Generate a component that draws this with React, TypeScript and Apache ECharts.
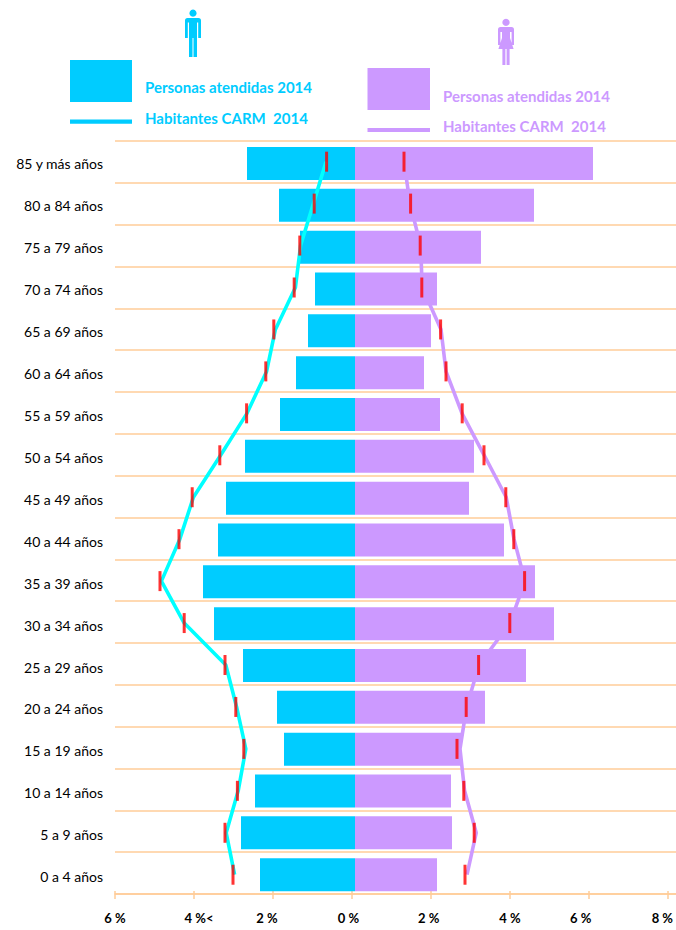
import React, { useEffect, useRef } from "react";
import * as echarts from "echarts";

const ageGroups = ["85 y más años", "80 a 84 años", "75 a 79 años", "70 a 74 años", "65 a 69 años", "60 a 64 años", "55 a 59 años", "50 a 54 años", "45 a 49 años", "40 a 44 años", "35 a 39 años", "30 a 34 años", "25 a 29 años", "20 a 24 años", "15 a 19 años", "10 a 14 años", "5 a 9 años", "0 a 4 años"];
const maleAttended = [2.7, 1.9, 1.375, 1.0, 1.175, 1.475, 1.875, 2.75, 3.225, 3.425, 3.8, 3.525, 2.8, 1.95, 1.775, 2.5, 2.85, 2.375];
const femaleAttended = [5.95, 4.475, 3.15, 2.05, 1.9, 1.725, 2.125, 2.975, 2.85, 3.725, 4.5, 4.975, 4.275, 3.25, 2.65, 2.4, 2.425, 2.05];
const maleMarks = [0.71, 1.02, 1.38, 1.52, 2.03, 2.23, 2.71, 3.38, 4.07, 4.4, 4.875, 4.27, 3.25, 2.98, 2.78, 2.94, 3.25, 3.05];
const femaleMarks = [1.225, 1.39, 1.63, 1.67, 2.14, 2.275, 2.68, 3.225, 3.77, 3.97, 4.24, 3.87, 3.09, 2.78, 2.55, 2.72, 2.98, 2.75];
const maleLine = [0.725, 1.04, 1.36, 1.49, 1.99, 2.21, 2.7, 3.36, 4.04, 4.38, 4.84, 4.27, 3.23, 2.96, 2.73, 2.92, 3.22, 3.01];
const femaleLine = [1.225, 1.375, 1.64, 1.68, 2.15, 2.275, 2.675, 3.23, 3.78, 3.975, 4.25, 3.875, 3.1, 2.79, 2.625, 2.74, 3.03, 2.8];
const tickTexts: Record<string, string> = { "-6": "6 %", "-4": "4 %<", "-2": "2 %", "0": "0 %", "2": "2 %", "4": "4 %", "6": "6 %", "8": "8 %" };
const tickStyle: Record<string, string> = { "-6": "a", "-4": "b", "-2": "c", "0": "d", "2": "e", "4": "a", "6": "f", "8": "g" };

const MAN = "M8 0.6a3.6 3.6 0 1 0 0.01 0Z M2.5 9H13.5Q16 9 16 11.5V29H13.2V13.5H12V48H8.5V29H7.5V48H4V13.5H2.8V29H0V11.5Q0 9 2.5 9Z";
const WOMAN = "M8 0.8a3.6 3.6 0 1 0 0.01 0Z M2.5 9H13.5Q16 9 16 11.5V27H13.6V14H12V20L15.6 31H11.6V47H8.6V31H7.4V47H4.4V31H0.4L4 20V14H2.4V27H0V11.5Q0 9 2.5 9Z";

const BLUE = "#00CCFF";
const CYAN = "#00FFFF";
const PURPLE = "#CC99FF";
const PEACH = "#FFCC99";
const FONT = "Lato";

function rowData(values: number[], sign: number) {
  return values.map((v, i) => [sign * v, i]);
}

export default function App() {
  const ref = useRef<HTMLDivElement>(null);
  useEffect(() => {
    echarts.graphic.registerShape("manIcon", echarts.graphic.extendPath(MAN, {}));
    echarts.graphic.registerShape("womanIcon", echarts.graphic.extendPath(WOMAN, {}));
    const chart = echarts.init(ref.current!, null, { renderer: "svg" });
    const pad = (dx: number) => ({
      fontFamily: FONT,
      fontSize: 13,
      fontWeight: "bold",
      color: "#000",
      padding: dx > 0 ? [0, 0, 0, 2 * dx] : [0, -2 * dx, 0, 0],
    });
    const hiddenX = (gridIndex: number) => ({ type: "value", gridIndex, min: -6, max: 8, interval: 2, show: false });
    const legendText = (text: string, x: number, y: number, fill: string) => ({
      type: "text",
      x,
      y,
      style: { text, fill, font: `bold 15px ${FONT}`, textVerticalAlign: "middle" },
    });
    chart.setOption({
      animation: false,
      backgroundColor: "#fff",
      grid: [
        { left: 115, width: 561, top: 141, height: 753 },
        { left: 115, width: 560, top: 142.6, height: 753 },
        { left: 115, width: 560, top: 140.7, height: 755 },
        { left: 115, width: 558.7, top: 141, height: 753 },
        { left: 115, width: 560, top: 142.7, height: 755 },
      ],
      xAxis: [
        {
          type: "value",
          gridIndex: 0,
          min: -6,
          max: 8,
          interval: 2,
          splitLine: { show: false },
          axisLine: { show: true, onZero: false, lineStyle: { color: PEACH, width: 1.5 } },
          axisTick: { show: false },
          axisLabel: { show: false },
        },
        {
          type: "value",
          gridIndex: 3,
          min: -6,
          max: 8,
          interval: 2,
          splitLine: { show: false },
          axisLine: { show: false, onZero: false },
          axisTick: { show: true, length: 5, lineStyle: { color: PEACH, width: 1.5 } },
          axisLabel: {
            margin: 17,
            formatter: (v: number) => `{${tickStyle[String(v)]}|${tickTexts[String(v)]}}`,
            rich: { a: pad(0), b: pad(5), c: pad(-6), d: pad(-3.5), e: pad(-2.3), f: pad(-8.3), g: pad(-5.6) },
          },
        },
        {
          type: "value",
          gridIndex: 3,
          min: -6,
          max: 8,
          interval: 2,
          position: "bottom",
          splitLine: { show: false },
          axisLine: { show: false, onZero: false },
          axisLabel: { show: false },
          axisTick: { show: true, inside: true, length: 3, lineStyle: { color: PEACH, width: 1.5 } },
        },
        hiddenX(1),
        hiddenX(2),
        hiddenX(4),
      ],
      yAxis: [
        {
          type: "category",
          gridIndex: 0,
          inverse: true,
          data: ageGroups,
          axisLine: { show: false },
          axisTick: { show: false },
          axisLabel: { show: false },
          splitLine: { show: true, interval: 0, lineStyle: { color: PEACH, width: 1.5 } },
        },
        { type: "category", gridIndex: 1, inverse: true, data: ageGroups, show: false },
        { type: "category", gridIndex: 2, inverse: true, data: ageGroups, show: false },
        { type: "category", gridIndex: 3, inverse: true, data: ageGroups, show: false },
        {
          type: "category",
          gridIndex: 4,
          inverse: true,
          data: ageGroups,
          axisLine: { show: false },
          axisTick: { show: false },
          splitLine: { show: false },
          axisLabel: {
            interval: 0,
            margin: 12,
            color: "#000",
            fontFamily: FONT,
            fontSize: 14,
          },
        },
      ],
      series: [
        { type: "bar", name: "Personas atendidas 2014 H", xAxisIndex: 3, yAxisIndex: 1, data: rowData(maleAttended, -1), barWidth: 33, barGap: "-100%", itemStyle: { color: BLUE }, z: 2, silent: true },
        { type: "bar", name: "Personas atendidas 2014 M", xAxisIndex: 3, yAxisIndex: 1, data: rowData(femaleAttended, 1), barWidth: 33, barGap: "-100%", itemStyle: { color: PURPLE }, z: 2, silent: true },
        { type: "line", name: "Habitantes CARM 2014 H", xAxisIndex: 4, yAxisIndex: 2, data: rowData(maleLine, -1), showSymbol: false, lineStyle: { color: CYAN, width: 3.6 }, z: 3, silent: true },
        { type: "line", name: "Habitantes CARM 2014 M", xAxisIndex: 4, yAxisIndex: 2, data: rowData(femaleLine, 1), showSymbol: false, lineStyle: { color: PURPLE, width: 3.6 }, z: 1, silent: true },
        { type: "scatter", name: "Marca H", xAxisIndex: 4, yAxisIndex: 2, data: rowData(maleMarks, -1), symbol: "rect", symbolSize: [3, 20], itemStyle: { color: "#FF0000" }, z: 5, silent: true },
        { type: "scatter", name: "Marca M", xAxisIndex: 4, yAxisIndex: 2, data: rowData(femaleMarks, 1), symbol: "rect", symbolSize: [3, 20], itemStyle: { color: "#FF0000" }, z: 5, silent: true },
      ],
      graphic: [
        { type: "manIcon", x: 185, y: 9, style: { fill: BLUE } },
        { type: "womanIcon", x: 498, y: 18, style: { fill: PURPLE } },
        { type: "rect", shape: { x: 70, y: 60, width: 62, height: 42 }, style: { fill: BLUE } },
        { type: "rect", shape: { x: 70, y: 119.5, width: 62, height: 4.2 }, style: { fill: BLUE } },
        legendText("Personas atendidas 2014", 145, 87, BLUE),
        legendText("Habitantes CARM  2014", 145, 118, BLUE),
        { type: "rect", shape: { x: 367.5, y: 68, width: 62.5, height: 42 }, style: { fill: PURPLE } },
        { type: "rect", shape: { x: 367.5, y: 128, width: 62.5, height: 4 }, style: { fill: PURPLE } },
        legendText("Personas atendidas 2014", 443, 96, PURPLE),
        legendText("Habitantes CARM  2014", 443, 126, PURPLE),
      ],
    });
    return () => chart.dispose();
  }, []);
  return <div ref={ref} style={{ position: "absolute", left: 0, top: 0, width: 676, height: 930 }} />;
}
